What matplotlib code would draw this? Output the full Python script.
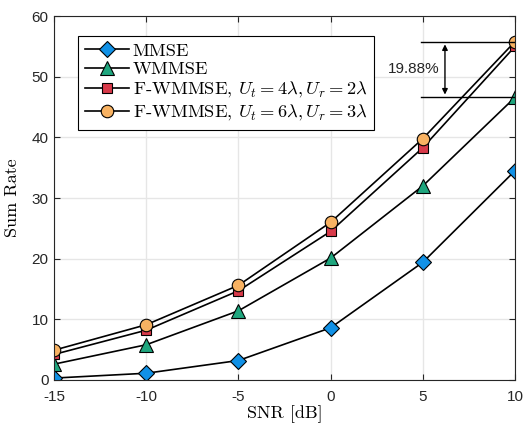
import numpy as np
import matplotlib
matplotlib.use('Agg')
import matplotlib.pyplot as plt

plt.rcParams['mathtext.fontset'] = 'cm'
plt.rcParams['axes.unicode_minus'] = False

# data
snr = [-15, -10, -5, 0, 5, 10]
mmse = [0.3, 1.1, 3.2, 8.6, 19.4, 34.5]
wmmse = [2.6, 5.8, 11.4, 20.1, 32.0, 46.6]
fw_4 = [4.2, 8.2, 14.7, 24.5, 38.3, 55.0]
fw_6 = [4.9, 9.1, 15.6, 26.0, 39.8, 55.8]
labels = ['MMSE', 'WMMSE',
          r'F-WMMSE, $U_t=4\lambda,U_r=2\lambda$',
          r'F-WMMSE, $U_t=6\lambda,U_r=3\lambda$']
gain_text = '19.88%'

fig = plt.figure(figsize=(5.25, 4.24), dpi=100)
ax = fig.add_axes([0.103, 0.104, 0.878, 0.858])

ax.plot(snr, mmse, '-D', color='k', lw=1.2, mfc='#1191e6', mec='k', ms=8.5, mew=0.8, label=labels[0])
ax.plot(snr, wmmse, '-^', color='k', lw=1.2, mfc='#1fa67e', mec='k', ms=9.5, mew=0.8, label=labels[1])
ax.plot(snr, fw_4, '-s', color='k', lw=1.2, mfc='#d83a4a', mec='k', ms=7.5, mew=0.8, label=labels[2])
ax.plot(snr, fw_6, '-o', color='k', lw=1.2, mfc='#f8b262', mec='k', ms=9, mew=0.8, label=labels[3])

# gain annotation
ax.plot([4.9, 10], [fw_6[-1], fw_6[-1]], color='k', lw=1)
ax.plot([4.9, 10], [wmmse[-1], wmmse[-1]], color='k', lw=1)
ax.annotate('', xy=(6.2, fw_6[-1]), xytext=(6.2, wmmse[-1]),
            arrowprops=dict(arrowstyle='<|-|>', color='k', lw=1, mutation_scale=8))
ax.text(4.5, 51.3, gain_text, ha='center', va='center', fontsize=11,
        family='Liberation Sans', color='#262626')

ax.set_xlim(-15, 10)
ax.set_ylim(0, 60)
ax.set_xticks([-15, -10, -5, 0, 5, 10])
ax.set_yticks([0, 10, 20, 30, 40, 50, 60])
ax.grid(color='#e6e6e6', lw=1)
ax.set_axisbelow(True)
ax.tick_params(direction='in', top=True, right=True, length=4, colors='#262626',
               labelsize=11)
ax.tick_params(axis='x', pad=7)
ax.tick_params(axis='y', pad=4)
for lab in ax.get_xticklabels() + ax.get_yticklabels():
    lab.set_family('Liberation Sans')
for s in ax.spines.values():
    s.set_color('#262626')

ax.set_xlabel('SNR [dB]', family='cmr10', fontsize=13, labelpad=1)
ax.set_ylabel('Sum Rate', family='cmr10', fontsize=13, labelpad=8)

leg = ax.legend(loc='upper left', bbox_to_anchor=(0.052, 0.945), borderaxespad=0,
                prop={'family': 'cmr10', 'size': 13.3}, fancybox=False, framealpha=1,
                edgecolor='k', handlelength=2.4, labelspacing=0.16, borderpad=0.35,
                handletextpad=0.2)
leg.get_frame().set_linewidth(0.8)

fig.savefig('out.png', dpi=100)
